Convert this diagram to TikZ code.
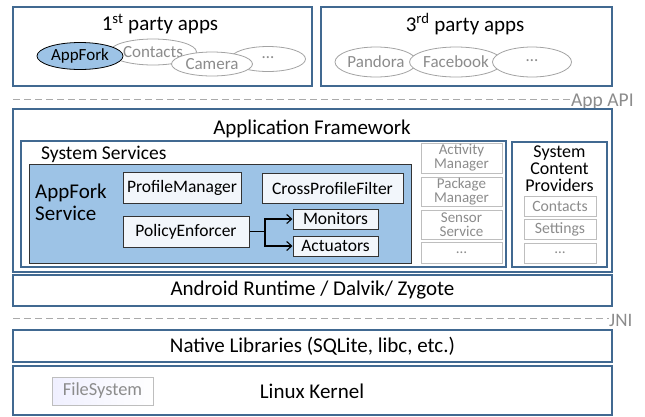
\documentclass[tikz,border=0pt]{standalone}
\usepackage{fontspec}
\setmainfont{Carlito}
\usetikzlibrary{arrows.meta,shapes.geometric}
\definecolor{edge}{RGB}{65,105,145}
\definecolor{blueF}{RGB}{157,195,230}
\definecolor{paleF}{RGB}{242,246,251}
\definecolor{grayE}{RGB}{190,190,190}
\definecolor{grayT}{RGB}{140,140,140}
\definecolor{dashC}{RGB}{170,170,170}
\tikzset{
  layer/.style={draw=edge, line width=1.3pt, fill=white, inner sep=0pt},
  inbox/.style={draw=black!80, line width=1pt, fill=paleF, inner sep=0pt, font=\fontsize{17.5}{19}\selectfont},
  graybox/.style={draw=grayE, line width=1pt, fill=white, inner sep=0pt, text=grayT, align=center, font=\fontsize{15}{14}\selectfont},
  app/.style={ellipse, draw=grayT!80, line width=0.8pt, text=grayT, inner sep=0pt, font=\fontsize{17}{19}\selectfont},
  sep/.style={draw=dashC, line width=1pt, dash pattern=on 7pt off 4pt},
  flow/.style={draw=black, line width=1.3pt, -{Straight Barb[length=5pt,width=9pt,line width=1.1pt]}},
  ttl/.style={font=\fontsize{21}{23}\selectfont},
  lbl/.style={font=\fontsize{21}{23}\selectfont},
}
\begin{document}
\begin{tikzpicture}[x=1pt,y=-1pt]
\useasboundingbox (0,0) rectangle (645,416);
% app boxes
\node[layer, minimum width=299pt, minimum height=79pt] (p1) at (162.5,46.5) {};
\node[layer, minimum width=291pt, minimum height=79pt] (p3) at (466.5,46.5) {};
\node[ttl] (t1) at (160,24) {1\textsuperscript{st} party apps};
\node[ttl] (t3) at (465,24) {3\textsuperscript{rd} party apps};
% ellipses 1st party
\node[app, minimum width=75pt, minimum height=25pt] (dots1) at (268,59) {\raisebox{2pt}{\dots}};
\node[app, minimum width=87pt, minimum height=26pt, fill=white] (contacts) at (153,52) {\raisebox{1pt}{Contacts}};
\node[app, minimum width=81pt, minimum height=24pt, fill=white] (camera) at (212,64) {Camera};
\node[app, minimum width=86pt, minimum height=27pt, fill=blueF, draw=black, text=black] (appfork) at (80,56) {AppFork};
% ellipses 3rd party
\node[app, minimum width=82pt, minimum height=30pt] (pandora) at (376,62) {Pandora};
\node[app, minimum width=88pt, minimum height=30pt, fill=white] (facebook) at (456,62) {Facebook};
\node[app, minimum width=79pt, minimum height=30pt, fill=white] (dots3) at (532,62) {\raisebox{2pt}{\dots}};
% App API
\coordinate (d1a) at (13,99);
\node[anchor=west, text=grayT, inner sep=0pt, font=\fontsize{19.5}{21}\selectfont] (api) at (571,102) {App API};
\draw[sep] (d1a) -- (api.west |- d1a);
% framework
\node[layer, minimum width=599pt, minimum height=163pt] (fw) at (312.5,190.5) {};
\node[ttl] (fwt) at (312,129) {Application Framework};
\node[layer, minimum width=485pt, minimum height=126pt] (ss) at (263.5,204) {};
\node[anchor=west, inner sep=0pt, font=\fontsize{19.5}{21}\selectfont] (sst) at (41,154.5) {System Services};
\node[draw=black!80, line width=1pt, fill=blueF, minimum width=382pt, minimum height=99pt, inner sep=0pt] (af) at (220,213.5) {};
\node[anchor=west, align=left, inner sep=0pt, font=\fontsize{21}{21.7}\selectfont] (aft) at (35,202.5) {AppFork\\Service};
\node[inbox, minimum width=118pt, minimum height=31pt] (pm) at (182,187.5) {ProfileManager};
\node[inbox, minimum width=141pt, minimum height=30pt] (cpf) at (332.5,188) {CrossProfileFilter};
\node[inbox, minimum width=126pt, minimum height=31pt] (pe) at (186,231.5) {PolicyEnforcer};
\node[inbox, minimum width=85pt, minimum height=20pt] (mon) at (335.5,219) {Monitors};
\node[inbox, minimum width=85pt, minimum height=20pt] (act) at (335.5,246) {Actuators};
\coordinate (br) at (265,231.5);
\draw[flow] (pe.east) -- (br) |- (mon.west);
\draw[flow] (br) |- (act.west);
% gray services
\node[graybox, minimum width=81pt, minimum height=30pt] (am) at (461.5,158) {Activity\\Manager};
\node[graybox, minimum width=81pt, minimum height=29pt] (pkm) at (461.5,191.5) {Package\\Manager};
\node[graybox, minimum width=81pt, minimum height=29pt] (sen) at (461.5,224.5) {Sensor\\Service};
\node[graybox, minimum width=81pt, minimum height=21pt] (sdots) at (461.5,252.5) {\dots};
% content providers
\node[layer, minimum width=95pt, minimum height=125pt] (scp) at (559.5,204.5) {};
\node[align=center, inner sep=0pt, font=\fontsize{18}{17}\selectfont] (scpt) at (559.5,168.5) {System\\Content\\Providers};
\node[graybox, minimum width=72pt, minimum height=20pt, font=\fontsize{15.7}{17}\selectfont] (cc) at (560,206) {Contacts};
\node[graybox, minimum width=72pt, minimum height=20pt, font=\fontsize{15.7}{17}\selectfont] (cs) at (560,229) {Settings};
\node[graybox, minimum width=72pt, minimum height=20pt] (cd) at (560,253) {\dots};
% runtime
\node[layer, minimum width=599pt, minimum height=31pt, lbl] (rt) at (312.5,290.5) {Android Runtime / Dalvik/ Zygote};
% JNI
\coordinate (d2a) at (13,318);
\node[anchor=west, text=grayT, inner sep=0pt, font=\fontsize{19}{21}\selectfont] (jni) at (609,320) {JNI};
\draw[sep] (d2a) -- (jni.west |- d2a);
% native
\node[layer, minimum width=599pt, minimum height=32pt, lbl] (nl) at (312.5,346) {Native Libraries (SQLite, libc, etc.)};
% kernel
\node[layer, minimum width=599pt, minimum height=49pt] (lk) at (312.5,390.5) {};
\node[lbl] (lkt) at (312,391) {Linux Kernel};
\node[draw=grayE, line width=1pt, left color=blue!6, right color=white, minimum width=101pt, minimum height=28pt, inner sep=0pt, text=grayT, font=\fontsize{18.4}{20}\selectfont] (fs) at (102.5,391) {FileSystem};
\end{tikzpicture}
\end{document}
